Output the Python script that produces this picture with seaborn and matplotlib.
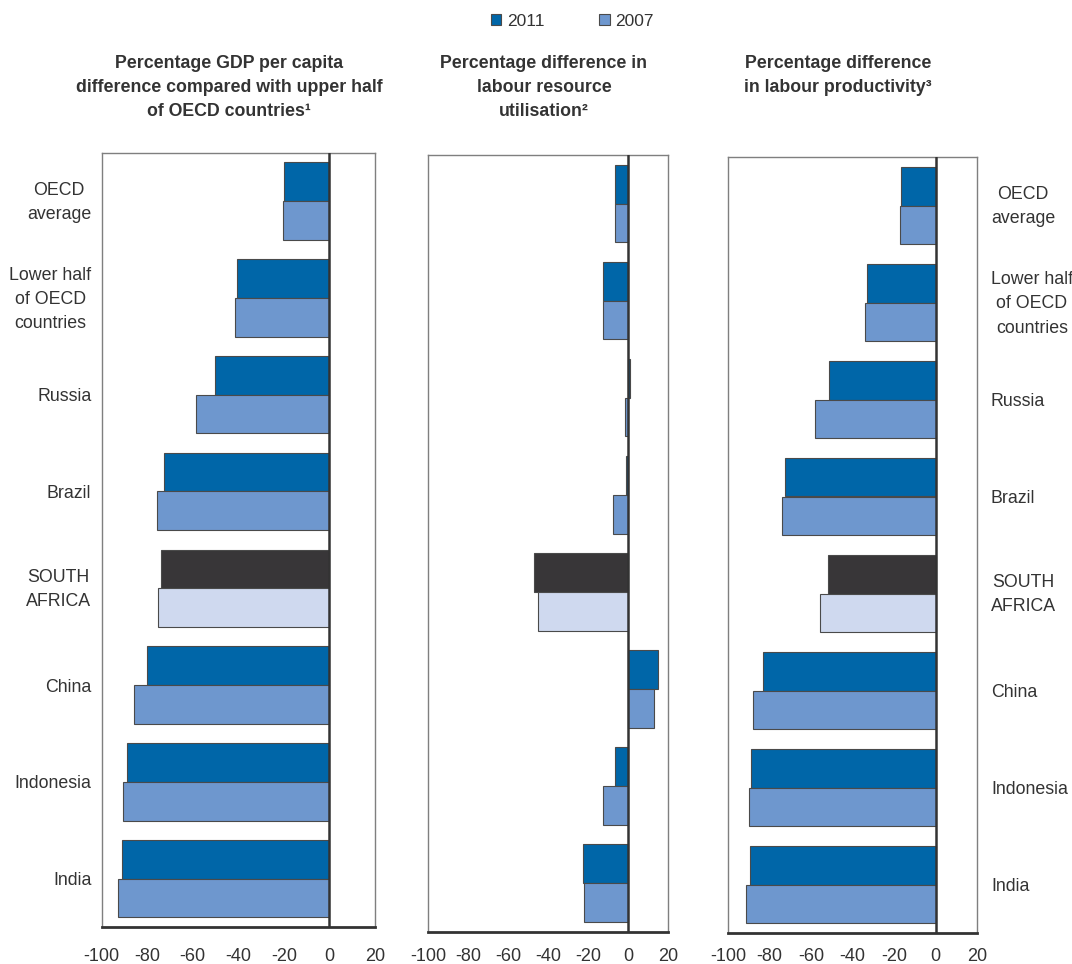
import matplotlib
matplotlib.use("Agg")
import matplotlib.pyplot as plt
import matplotlib.transforms as mtransforms
from matplotlib.patches import Patch
import seaborn as sns
import pandas as pd

# Data
countries = ["OECD\naverage", "Lower half\nof OECD\ncountries", "Russia", "Brazil",
             "SOUTH\nAFRICA", "China", "Indonesia", "India"]
years = ["2011", "2007"]

gdp_2011 = [-20.1, -40.7, -50.4, -72.7, -74.1, -80.3, -88.8, -91.3]
gdp_2007 = [-20.2, -41.4, -58.6, -75.9, -75.3, -85.9, -90.7, -92.9]

lru_2011 = [-6.4, -12.4, 1.2, -1.2, -47.1, 15.2, -6.7, -22.4]
lru_2007 = [-6.4, -12.7, -1.7, -7.5, -44.9, 13.2, -12.7, -22.1]

prod_2011 = [-16.7, -33.0, -51.3, -72.4, -51.9, -83.2, -88.8, -89.3]
prod_2007 = [-17.1, -33.8, -58.3, -74.2, -55.9, -88.1, -90.1, -91.5]

titles = ["Percentage GDP per capita\ndifference compared with upper half\nof OECD countries\u00b9",
          "Percentage difference in\nlabour resource\nutilisation\u00b2",
          "Percentage difference\nin labour productivity\u00b3"]
xticks = [-100, -80, -60, -40, -20, 0, 20]

c2011 = "#0066a8"
c2007 = "#6e97ce"
sa2011 = "#383638"
sa2007 = "#cfd9ef"

sns.set_style("white")
plt.rcParams["font.family"] = ["Liberation Sans", "DejaVu Sans"]
plt.rcParams["text.color"] = "#333333"
plt.rcParams["axes.unicode_minus"] = False


def make_df(v2011, v2007):
    return pd.DataFrame({
        "country": countries * 2,
        "year": ["2011"] * len(countries) + ["2007"] * len(countries),
        "value": list(v2011) + list(v2007),
    })


W, H = 1072, 964
fig = plt.figure(figsize=(W / 100, H / 100), dpi=100)

# panel boxes in pixels: left, right, top, bottom
boxes = [(101.7, 375, 152.7, 927), (428, 668, 155, 931.5), (728, 977, 157, 933)]
datasets = [(gdp_2011, gdp_2007), (lru_2011, lru_2007), (prod_2011, prod_2007)]
title_x = [229, 544, 838]
xpads = [15, 12, 11]

sa_idx = countries.index("SOUTH\nAFRICA")
# multi-line tick labels sit a little low with center_baseline, lift them
lift = mtransforms.ScaledTranslation(0, 3 / 72, fig.dpi_scale_trans)

for i, (box, (a, b)) in enumerate(zip(boxes, datasets)):
    l, r, t, btm = box
    ax = fig.add_axes([l / W, 1 - btm / H, (r - l) / W, (btm - t) / H])
    df = make_df(a, b)
    sns.barplot(data=df, y="country", x="value", hue="year", hue_order=years,
                order=countries, orient="h", palette=[c2011, c2007],
                saturation=1, width=0.8, edgecolor="#4a4a4a", linewidth=0.8,
                ax=ax, legend=False)
    # highlight South Africa
    ax.containers[0][sa_idx].set_facecolor(sa2011)
    ax.containers[1][sa_idx].set_facecolor(sa2007)

    ax.axvline(0, color="#333333", lw=1.8, zorder=5)
    ax.set_xlim(-100, 20)
    ax.set_ylim(7.5, -0.5)
    ax.set_xticks(xticks)
    ax.set_xlabel("")
    ax.set_ylabel("")
    for s in ["left", "right", "top"]:
        ax.spines[s].set_color("#7f7f7f")
        ax.spines[s].set_linewidth(1.0)
    ax.spines["bottom"].set_color("#333333")
    ax.spines["bottom"].set_linewidth(2.0)
    ax.tick_params(axis="x", direction="in", length=6, width=1, color="#7f7f7f",
                   pad=xpads[i], labelsize=13, labelcolor="#333333")
    ax.tick_params(axis="y", length=0, labelsize=12.8, labelcolor="#333333")

    if i == 0:
        ax.yaxis.set_ticks_position("left")
        ax.tick_params(axis="y", pad=7.5)
    elif i == 2:
        ax.yaxis.tick_right()
        ax.tick_params(axis="y", pad=10)
    else:
        ax.set_yticklabels([])

    if i != 1:
        for lab in ax.get_yticklabels():
            lab.set_multialignment("center")
            lab.set_linespacing(1.55)
            if "\n" in lab.get_text():
                lab.set_transform(lab.get_transform() + lift)

    fig.text(title_x[i] / W, 1 - 55 / H, titles[i], ha="center", va="top",
             fontsize=12.8, fontweight="bold", linespacing=1.53, color="#333333")

handles = [Patch(facecolor=c2011, edgecolor="#4a4a4a", lw=0.8),
           Patch(facecolor=c2007, edgecolor="#4a4a4a", lw=0.8)]
fig.legend(handles, years, loc="center", bbox_to_anchor=(572 / W, 1 - 21 / H),
           ncol=2, frameon=False, fontsize=12.5, handlelength=0.63,
           handleheight=0.63, handletextpad=0.3, columnspacing=3.15)

fig.savefig("out.png", dpi=100)
